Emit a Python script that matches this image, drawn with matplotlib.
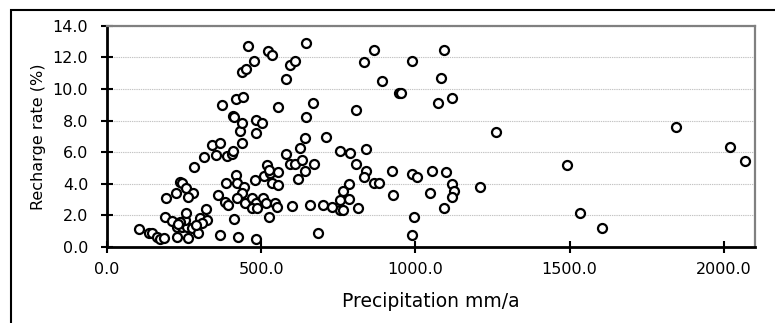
import matplotlib
matplotlib.use("Agg")
import matplotlib.pyplot as plt
from matplotlib.patches import Rectangle

# Annual precipitation (mm/a) and groundwater recharge rate (%) per site
precipitation = [
    105, 136, 145, 163, 172, 186, 188, 210, 226, 243, 261, 275, 253, 257, 302,
    321, 324, 295, 228, 264, 192, 224, 237, 243, 257, 280, 264, 283, 308, 237,
    231, 289, 340, 367, 372, 316, 354, 388, 405, 410, 437, 430, 484, 408, 412,
    437, 484, 502, 419, 440, 437, 451, 456, 477, 523, 536, 554, 580, 592, 610,
    646, 646, 667, 361, 383, 394, 412, 386, 419, 423, 443, 437, 421, 448, 470,
    484, 470, 488, 506, 516, 546, 551, 524, 481, 508, 529, 556, 535, 556, 519,
    524, 600, 659, 367, 424, 484, 619, 581, 594, 611, 627, 632, 643, 643, 670,
    710, 757, 789, 841, 809, 841, 832, 867, 881, 784, 767, 757, 784, 757, 767,
    814, 702, 730, 683, 925, 928, 990, 1004, 1055, 1100, 1120, 1125, 1120, 1049,
    1092, 1209, 995, 990, 1263, 867, 835, 1092, 990, 892, 1082, 946, 952, 1074,
    1119, 809, 1491, 1534, 1607, 1845, 2021, 2069,
]
recharge = [
    1.14, 0.86, 0.86, 0.64, 0.47, 0.54, 1.91, 1.65, 1.27, 1.24, 1.24, 1.17, 1.70, 2.17, 1.81,
    2.41, 1.70, 0.89, 0.64, 0.53, 3.07, 3.43, 4.11, 4.04, 3.71, 3.43, 3.14, 5.04, 1.53, 1.54,
    1.45, 1.38, 6.45, 6.60, 8.99, 5.71, 5.79, 5.74, 5.85, 6.09, 6.60, 7.34, 7.23, 8.27, 8.21,
    7.87, 8.02, 7.87, 9.37, 9.51, 11.08, 11.29, 12.71, 11.78, 12.43, 12.16, 8.83, 10.63, 11.53, 11.79,
    12.93, 8.25, 9.13, 3.28, 2.81, 2.63, 1.79, 4.06, 4.55, 4.02, 3.81, 3.38, 3.07, 2.79, 3.07,
    2.76, 2.44, 2.44, 3.07, 2.76, 2.76, 2.54, 1.86, 4.23, 4.50, 4.66, 4.76, 4.02, 3.92, 5.18,
    4.87, 2.57, 2.66, 0.75, 0.64, 0.47, 4.28, 5.87, 5.24, 5.24, 6.25, 5.50, 6.88, 4.82, 5.24,
    6.98, 6.07, 5.96, 6.20, 5.23, 4.82, 4.44, 4.06, 4.06, 3.96, 3.56, 2.97, 3.03, 2.33, 2.33,
    2.44, 2.66, 2.55, 0.89, 4.82, 3.30, 4.60, 4.44, 4.82, 4.72, 3.96, 3.56, 3.18, 3.39,
    2.44, 3.81, 1.91, 0.75, 7.29, 12.47, 11.69, 12.47, 11.79, 10.53, 10.68, 9.77, 9.77, 9.09,
    9.42, 8.67, 5.20, 2.16, 1.17, 7.61, 6.35, 5.44,
]

x_ticks = [0, 500, 1000, 1500, 2000]
y_ticks = [0, 2, 4, 6, 8, 10, 12, 14]
x_label = "Precipitation mm/a"
y_label = "Recharge rate (%)"

plt.rcParams["font.family"] = ["DejaVu Sans"]

W, H = 775, 323
fig = plt.figure(figsize=(W / 100, H / 100), dpi=100)
ax = fig.add_axes([107 / W, 1 - 246.8 / H, (754.5 - 107) / W, (246.8 - 25.8) / H])

ax.scatter(precipitation, recharge, s=42, facecolors="white", edgecolors="black",
           linewidths=1.6, zorder=3, clip_on=False)

ax.set_xlim(0, 2100)
ax.set_ylim(0, 14)
ax.set_xticks(x_ticks)
ax.set_yticks(y_ticks)
ax.set_xticklabels([f"{v:.1f}" for v in x_ticks])
ax.set_yticklabels([f"{v:.1f}" for v in y_ticks])

# dotted horizontal grid
ax.yaxis.grid(True, color="#c4c4c4", linestyle=(0, (1.2, 0.8)), linewidth=0.8, zorder=0)
ax.set_axisbelow(True)

for side in ("left", "bottom"):
    ax.spines[side].set_linewidth(2.0)
    ax.spines[side].set_color("black")
for side in ("top", "right"):
    ax.spines[side].set_linewidth(1.6)
    ax.spines[side].set_color("#808080")

ax.tick_params(axis="x", direction="inout", length=8, width=1.5, pad=7,
               labelsize=11.5, colors="black")
ax.tick_params(axis="y", direction="inout", length=9, width=1.5, pad=9,
               labelsize=11.5, colors="black")

ax.set_xlabel(x_label, fontsize=13.5, labelpad=11)
ax.set_ylabel(y_label, fontsize=11.5, labelpad=5)

# outer chart frame (extends past the right and bottom edges)
fig.add_artist(Rectangle((11 / W, -0.2), 1.2, 1 - 10 / H + 0.2,
                         transform=fig.transFigure, fill=False,
                         edgecolor="black", linewidth=1.5))

fig.savefig("out.png", dpi=100)
